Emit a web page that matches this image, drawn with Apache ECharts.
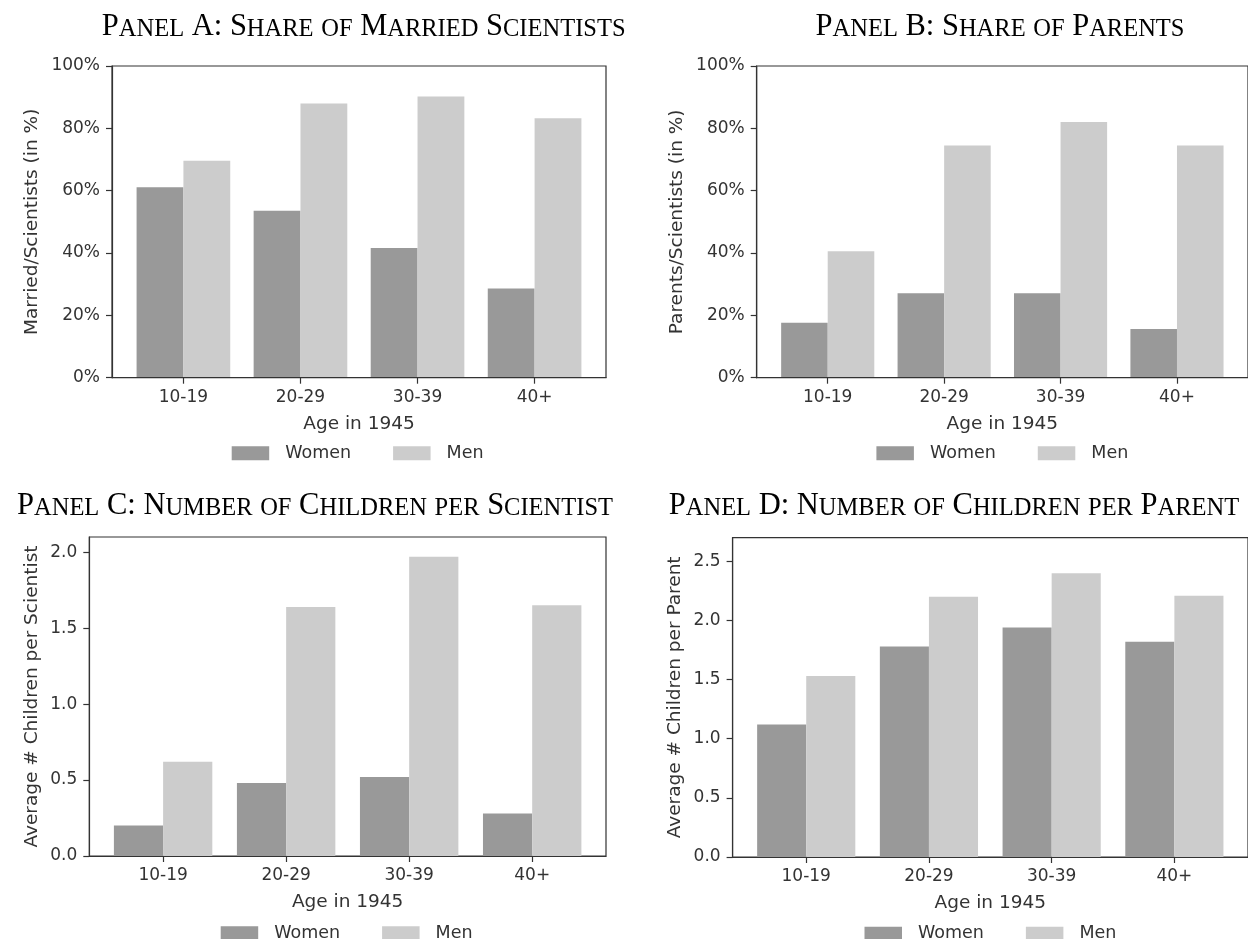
<!DOCTYPE html>
<html>
<head>
<meta charset="utf-8">
<script src="https://cdn.jsdelivr.net/npm/echarts@6/dist/echarts.min.js"></script>
<style>
  html, body { margin: 0; padding: 0; background: #fff; }
  #chart { width: 1248px; height: 939px; }
</style>
</head>
<body>
<div id="chart"></div>
<script>
// ---------- data ----------
const categories = ['10-19', '20-29', '30-39', '40+'];
const seriesNames = ['Women', 'Men'];

const titleA = 'Panel A: Share of Married Scientists';
const titleB = 'Panel B: Share of Parents';
const titleC = 'Panel C: Number of Children per Scientist';
const titleD = 'Panel D: Number of Children per Parent';

const yNameA = 'Married/Scientists (in %)';
const yNameB = 'Parents/Scientists (in %)';
const yNameC = 'Average # Children per Scientist';
const yNameD = 'Average # Children per Parent';
const xName = 'Age in 1945';

const womenA = [61.1, 53.6, 41.6, 28.6];
const menA   = [69.6, 88.0, 90.2, 83.2];
const womenB = [17.6, 27.1, 27.1, 15.6];
const menB   = [40.6, 74.5, 82.0, 74.5];
const womenC = [0.20, 0.48, 0.52, 0.28];
const menC   = [0.62, 1.64, 1.97, 1.65];
const womenD = [1.12, 1.78, 1.94, 1.82];
const menD   = [1.53, 2.20, 2.40, 2.21];

const pctTicks = [0, 20, 40, 60, 80, 100];
const ticksC = [0, 0.5, 1.0, 1.5, 2.0];
const ticksD = [0, 0.5, 1.0, 1.5, 2.0, 2.5];

// ---------- style ----------
const FONT = 'DejaVu Sans';
const SERIF = 'Liberation Serif';
const TXT = '#333';
const WOMEN_COLOR = '#999999';
const MEN_COLOR = '#cccccc';
const BAR_W = 0.4;

const panels = [
  { grid: { left: 112, top: 66, width: 494, height: 311.7 }, xr: [-0.61, 3.61],
    women: womenA, men: menA, yName: yNameA, nameGap: 70, ymax: 100, yTicks: pctTicks, pct: true,
    legend: { left: 231.7, top: 444.3 }, title: titleA, tx: 363.7, ty: 36 },
  { grid: { left: 756.7, top: 66, width: 494, height: 311.7 }, xr: [-0.61, 3.61],
    women: womenB, men: menB, yName: yNameB, nameGap: 70, ymax: 100, yTicks: pctTicks, pct: true,
    legend: { left: 876.4, top: 444.3 }, title: titleB, tx: 1000, ty: 36 },
  { grid: { left: 89.3, top: 537, width: 516.7, height: 319 }, xr: [-0.6, 3.6],
    women: womenC, men: menC, yName: yNameC, nameGap: 48, ymax: 2.1, yTicks: ticksC, pct: false,
    legend: { left: 220.7, top: 924.3 }, title: titleC, tx: 315, ty: 515 },
  { grid: { left: 732.6, top: 537.7, width: 517.4, height: 319.3 }, xr: [-0.6, 3.6],
    women: womenD, men: menD, yName: yNameD, nameGap: 48, ymax: 2.7, yTicks: ticksD, pct: false,
    legend: { left: 864.5, top: 924.8 }, title: titleD, tx: 954, ty: 515 }
];

function smallCapsRich(str) {
  let out = '';
  let cur = null, buf = '';
  for (const ch of str) {
    const type = (ch >= 'a' && ch <= 'z') ? 's' : 'b';
    if (type !== cur && buf) { out += '{' + cur + '|' + buf + '}'; buf = ''; }
    cur = type;
    buf += ch.toUpperCase();
  }
  if (buf) out += '{' + cur + '|' + buf + '}';
  return out;
}

function makeRender(offset) {
  return function (params, api) {
    const x = api.value(0), y = api.value(1);
    const a = api.coord([x + offset, 0]);
    const b = api.coord([x + offset + BAR_W, y]);
    return {
      type: 'rect',
      shape: { x: a[0], y: b[1], width: b[0] - a[0], height: a[1] - b[1] },
      style: { fill: api.visual('color') }
    };
  };
}

const option = {
  animation: false,
  backgroundColor: '#fff',
  grid: [], xAxis: [], yAxis: [], series: [], legend: [], graphic: []
};

panels.forEach((p, i) => {
  option.grid.push(Object.assign({ show: true, borderColor: '#333', borderWidth: 1.2, backgroundColor: 'transparent' }, p.grid));
  option.xAxis.push({
    type: 'value', gridIndex: i, min: p.xr[0], max: p.xr[1], z: 10,
    name: xName, nameLocation: 'middle', nameGap: 37,
    nameTextStyle: { fontFamily: FONT, fontSize: 18.5, color: TXT },
    axisLine: { show: true, onZero: false, lineStyle: { color: '#333', width: 1.2 } },
    axisTick: { show: true, length: 6, customValues: [0, 1, 2, 3], lineStyle: { color: '#333', width: 1.2 } },
    axisLabel: { customValues: [0, 1, 2, 3], margin: 11, fontFamily: FONT, fontSize: 17, color: TXT,
                 formatter: v => categories[Math.round(v)] },
    splitLine: { show: false }
  });
  option.yAxis.push({
    type: 'value', gridIndex: i, min: 0, max: p.ymax, interval: p.pct ? 20 : 0.5, z: 10,
    name: p.yName, nameLocation: 'middle', nameGap: p.nameGap,
    nameTextStyle: { fontFamily: FONT, fontSize: 18.5, color: TXT },
    axisLine: { show: true, onZero: false, lineStyle: { color: '#333', width: 1.2 } },
    axisTick: { show: true, length: 6, customValues: p.yTicks, lineStyle: { color: '#333', width: 1.2 } },
    axisLabel: { customValues: p.yTicks, margin: 12, fontFamily: FONT, fontSize: 17, color: TXT,
                 formatter: p.pct ? (v => v + '%') : (v => v.toFixed(1)) },
    splitLine: { show: false }
  });
  option.series.push({
    type: 'custom', name: seriesNames[0], xAxisIndex: i, yAxisIndex: i,
    itemStyle: { color: WOMEN_COLOR }, renderItem: makeRender(-BAR_W),
    encode: { x: 0, y: 1 }, data: p.women.map((v, k) => [k, v])
  });
  option.series.push({
    type: 'custom', name: seriesNames[1], xAxisIndex: i, yAxisIndex: i,
    itemStyle: { color: MEN_COLOR }, renderItem: makeRender(0),
    encode: { x: 0, y: 1 }, data: p.men.map((v, k) => [k, v])
  });
  option.legend.push({
    data: seriesNames, left: p.legend.left, top: p.legend.top, padding: 0,
    icon: 'rect', itemWidth: 37.5, itemHeight: 14, itemGap: 42,
    textStyle: { fontFamily: FONT, fontSize: 17.5, color: TXT, lineHeight: 14, padding: [0, 0, 0, 11] },
    selectedMode: false
  });
  option.graphic.push({
    type: 'text', x: p.tx, y: p.ty + 6,
    style: {
      text: smallCapsRich(p.title),
      align: 'center', verticalAlign: 'bottom',
      fill: '#000',
      rich: {
        b: { fontFamily: SERIF, fontSize: 30.5, lineHeight: 30.5, verticalAlign: 'bottom', fill: '#000', color: '#000' },
        s: { fontFamily: SERIF, fontSize: 24.5, lineHeight: 27, verticalAlign: 'bottom', fill: '#000', color: '#000' }
      }
    }
  });
});

const chart = echarts.init(document.getElementById('chart'), null, { renderer: 'canvas' });
chart.setOption(option);
</script>
</body>
</html>
